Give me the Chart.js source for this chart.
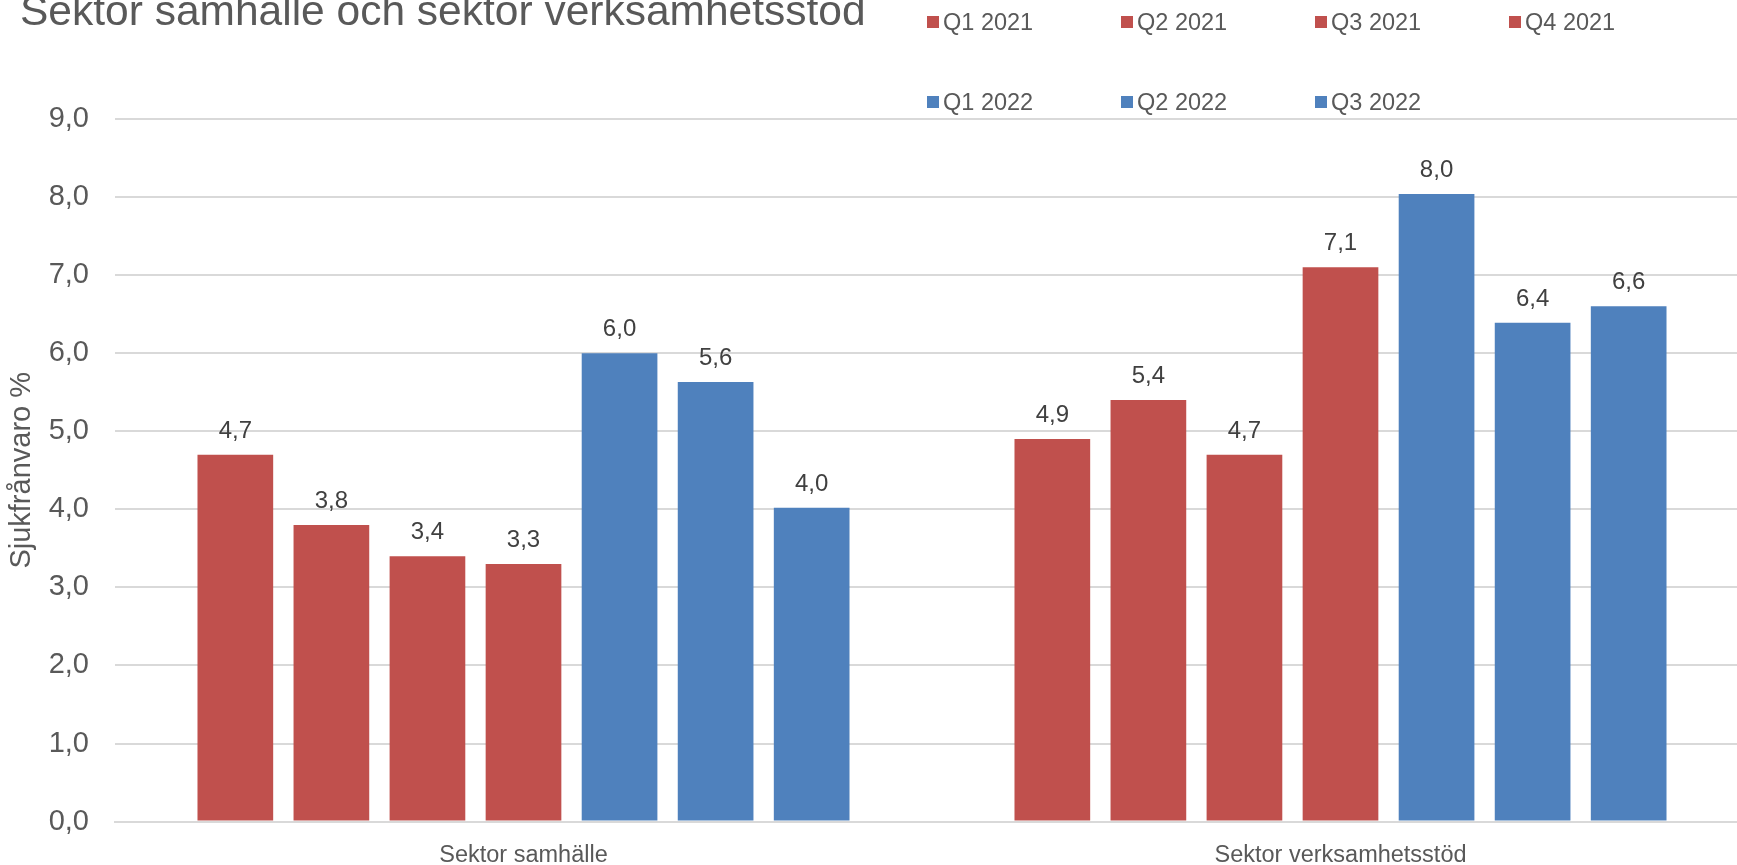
<!DOCTYPE html>
<html>
<head>
<meta charset="utf-8">
<script src="https://cdn.jsdelivr.net/npm/chart.js@4"></script>
<style>
  html, body { margin: 0; padding: 0; background: #fff; overflow: hidden; }
  #wrap { width: 1749px; height: 865px; position: relative; }
</style>
</head>
<body>
<div id="wrap"><canvas id="myChart"></canvas></div>
<script>
const titleText = 'Sektor samhälle och sektor verksamhetsstöd';
const yTitle = 'Sjukfrånvaro %';
const categories = ['Sektor samhälle', 'Sektor verksamhetsstöd'];
const seriesNames = ['Q1 2021', 'Q2 2021', 'Q3 2021', 'Q4 2021', 'Q1 2022', 'Q2 2022', 'Q3 2022'];
const q1_2021 = [4.7, 4.9];
const q2_2021 = [3.8, 5.4];
const q3_2021 = [3.4, 4.7];
const q4_2021 = [3.3, 7.1];
const q1_2022 = [6.0, 8.04];
const q2_2022 = [5.63, 6.39];
const q3_2022 = [4.02, 6.6];
const yTicks = [0, 1, 2, 3, 4, 5, 6, 7, 8, 9];

const RED = '#C0504D';
const BLUE = '#4F81BD';
const GREY = '#595959';
const FONT = '"Liberation Sans", Arial, sans-serif';

const seriesValues = [q1_2021, q2_2021, q3_2021, q4_2021, q1_2022, q2_2022, q3_2022];
const seriesColors = [RED, RED, RED, RED, BLUE, BLUE, BLUE];

function fmt(v) {
    return v.toFixed(1).replace('.', ',');
}

// titel, legend och värdeetiketter
const extras = {
    id: 'extras',
    afterDatasetsDraw(chart) {
        const ctx = chart.ctx;
        ctx.save();
        // värden ovanför staplarna
        ctx.font = '24px ' + FONT;
        ctx.fillStyle = '#404040';
        ctx.textAlign = 'center';
        ctx.textBaseline = 'alphabetic';
        chart.data.datasets.forEach((ds, i) => {
            chart.getDatasetMeta(i).data.forEach((bar, j) => {
                ctx.fillText(fmt(ds.data[j]), bar.x, bar.y - 17);
            });
        });

        // rubrik
        ctx.textAlign = 'left';
        ctx.fillStyle = GREY;
        ctx.font = '42.5px ' + FONT;
        ctx.fillText(titleText, 20, 25);

        // legend, 4 kolumner
        ctx.font = '23.5px ' + FONT;
        chart.data.datasets.forEach((ds, i) => {
            const col = i % 4;
            const row = Math.floor(i / 4);
            const x = 927 + col * 194;
            const y = 16 + row * 80;
            ctx.fillStyle = ds.backgroundColor;
            ctx.fillRect(x, y, 12, 12);
            ctx.fillStyle = GREY;
            ctx.fillText(ds.label, x + 16, y + 14);
        });
        ctx.restore();
    }
};

const ctx = document.getElementById('myChart').getContext('2d');
const myChart = new Chart(ctx, {
    type: 'bar',
    data: {
        labels: categories,
        datasets: seriesNames.map((name, i) => ({
            label: name,
            data: seriesValues[i],
            backgroundColor: seriesColors[i],
            borderWidth: 0
        }))
    },
    options: {
        responsive: true,
        maintainAspectRatio: false,
        animation: false,
        categoryPercentage: 0.823,
        barPercentage: 0.788,
        layout: {
            padding: { top: 119, left: 0, right: 0, bottom: 0 }
        },
        plugins: {
            legend: { display: false },
            tooltip: { enabled: false }
        },
        scales: {
            x: {
                afterFit: (scale) => { scale.height = 41; },
                grid: { display: false, drawTicks: false },
                border: { display: true, color: '#D9D9D9', width: 2 },
                ticks: {
                    color: GREY,
                    font: { family: FONT, size: 23.5 },
                    padding: 20
                }
            },
            y: {
                min: 0,
                max: 9,
                afterFit: (scale) => { scale.width = 115; },
                afterBuildTicks: (scale) => {
                    scale.ticks = yTicks.map(v => ({ value: v }));
                },
                grid: { color: '#D9D9D9', lineWidth: 2, drawTicks: false },
                border: { display: false },
                ticks: {
                    color: GREY,
                    font: { family: FONT, size: 29 },
                    padding: 26,
                    callback: (v) => fmt(v)
                },
                title: {
                    display: true,
                    text: yTitle,
                    color: GREY,
                    font: { family: FONT, size: 29 },
                    padding: { top: 5, bottom: 0 }
                }
            }
        }
    },
    plugins: [extras]
});
</script>
</body>
</html>
